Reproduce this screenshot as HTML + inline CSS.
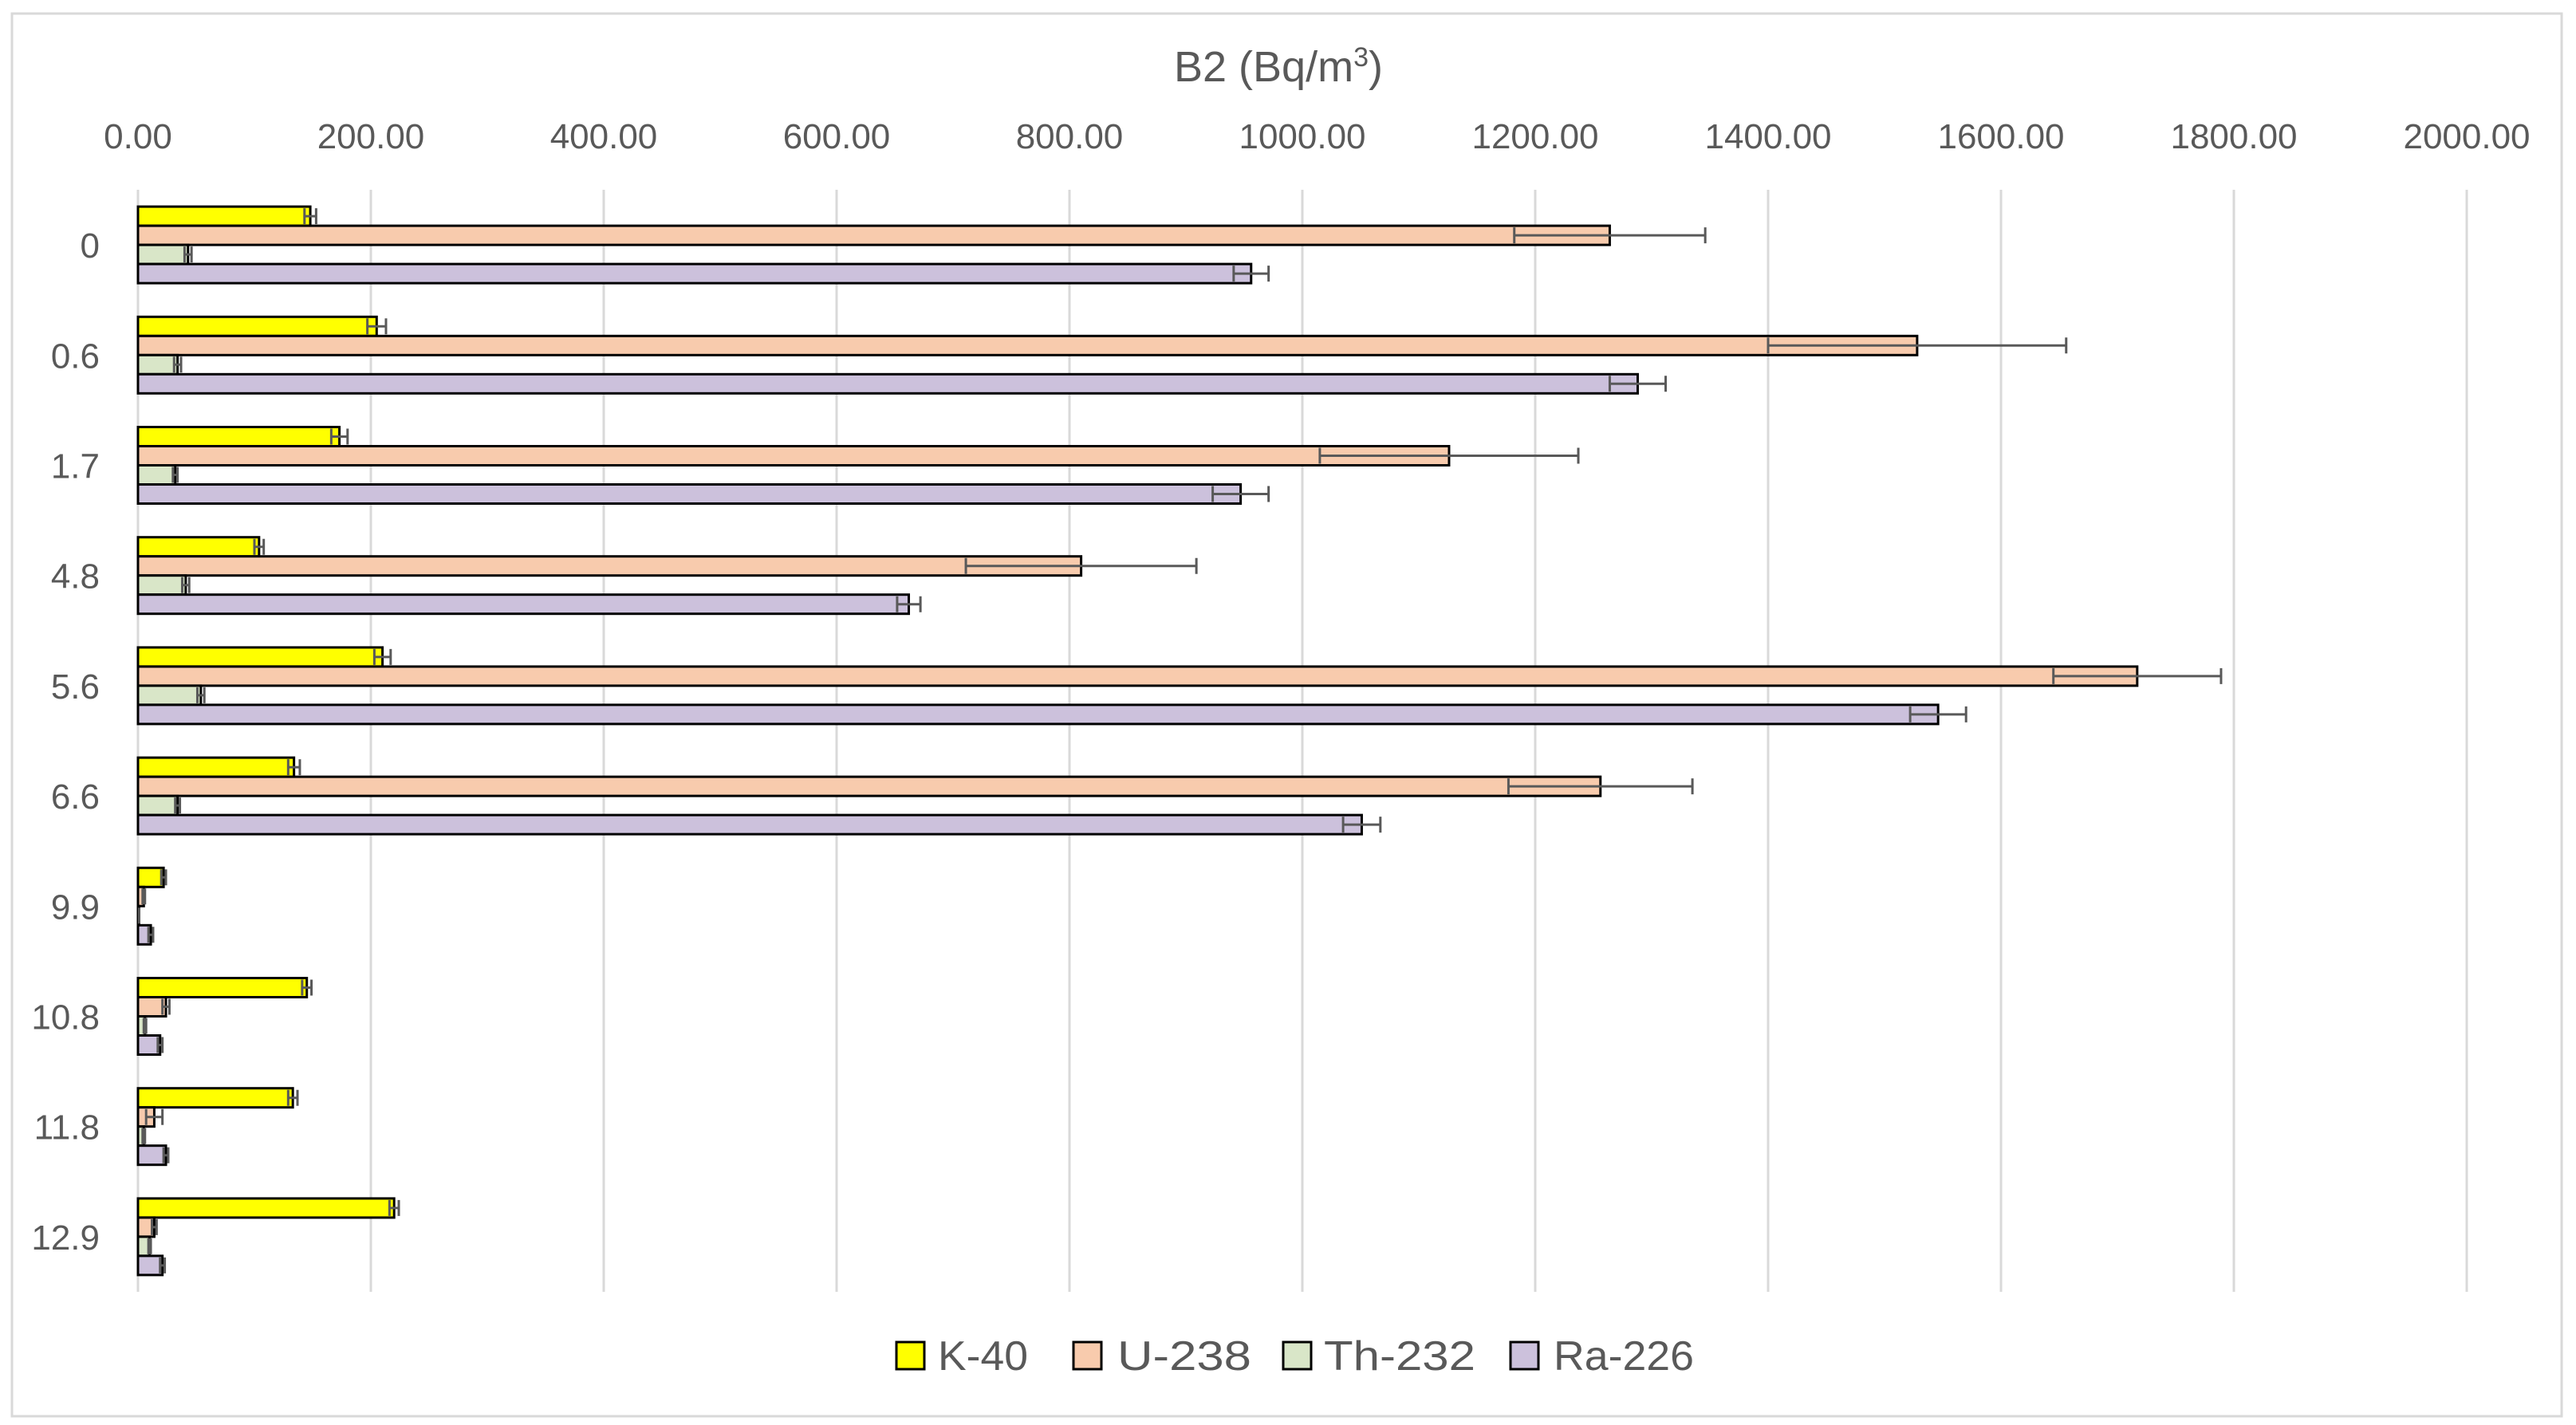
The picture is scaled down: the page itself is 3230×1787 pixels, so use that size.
<!DOCTYPE html>
<html><head><meta charset="utf-8"><style>
html,body{margin:0;padding:0;background:#fff;}
svg{display:block;font-family:"Liberation Sans",sans-serif;}
</style></head><body>
<svg id="chart" width="3230" height="1787" viewBox="0 0 3230 1787" xmlns="http://www.w3.org/2000/svg">
<rect x="15" y="17" width="3197" height="1759" fill="#fff" stroke="#d9d9d9" stroke-width="3"/>
<text x="1603" y="102" text-anchor="middle" font-size="54" fill="#595959">B2 (Bq/m<tspan baseline-shift="super" font-size="34">3</tspan>)</text>
<g id="grid"></g><g id="bars"></g><g id="errs"></g><g id="labels"></g>
<g id="legend"></g>
</svg>
<script>
const categories = ["0","0.6","1.7","4.8","5.6","6.6","9.9","10.8","11.8","12.9"];
const seriesNames = ["K-40","U-238","Th-232","Ra-226"];
const k40 = [148,205,173,104,210,134,22,145,133,220];
const u238 = [1264,1528,1126,810,1717,1256,5,24,14,14];
const th232 = [43,34,32,41,54,34,1,6,5,10];
const ra226 = [956,1288,947,662,1546,1051,11,19,24,21];
const k40Err = [5,8,7,4,7,5,2,4,4,4];
const u238Err = [82,128,111,99,72,79,1,3,7,2];
const th232Err = [3,3,2,3,3,2,0,1,1,1];
const ra226Err = [15,24,24,10,24,16,2,2,2,2];
const ticks = [0,200,400,600,800,1000,1200,1400,1600,1800,2000];

const series = [k40,u238,th232,ra226];
const errs = [k40Err,u238Err,th232Err,ra226Err];
const colors = ["#ffff00","#f8cbad","#d9e6c8","#ccc1dc"];
const NS = "http://www.w3.org/2000/svg";
const X0 = 173, PX = 1.46, TOP = 238, BOT = 1620;
const band = (BOT - TOP) / categories.length, barH = 24;
const xs = v => X0 + v * PX;
function mk(tag, attrs, parent){const e=document.createElementNS(NS,tag);for(const k in attrs)e.setAttribute(k,attrs[k]);document.getElementById(parent).appendChild(e);return e;}

ticks.forEach(t=>{
  const g = mk("line",{x1:xs(t),x2:xs(t),y1:TOP,y2:BOT,stroke:"#d9d9d9","stroke-width":3},"grid");
  
  
  const l = mk("text",{x:xs(t),y:186,"text-anchor":"middle","font-size":44,fill:"#595959"},"labels");
  l.textContent = t.toFixed(2);
  
  
});
categories.forEach((c,i)=>{
  const cy = TOP + band*i + band/2;
  const l = mk("text",{x:125,y:cy+16,"text-anchor":"end","font-size":44,fill:"#595959"},"labels");
  l.textContent = c;
  
  
  series.forEach((s,j)=>{
    const y = cy - 2*barH + j*barH;
    const w = Math.max(xs(s[i]) - X0, 1);
    const r = mk("rect",{x:X0,y:y,width:w,height:barH,fill:colors[j],stroke:"#000","stroke-width":3},"bars");
    
    
    const e = errs[j][i];
    const ym = y + barH/2, x1 = xs(s[i]-e), x2 = xs(s[i]+e);
    const eg = mk("path",{d:`M${x1},${ym}H${x2}M${x1},${ym-10}V${ym+10}M${x2},${ym-10}V${ym+10}`,stroke:"#595959","stroke-width":3,fill:"none"},"errs");
    
    
  });
});
const lx = [1124,1346,1609,1894], tx=[1176,1401,1660,1948], tw=[113,168,190,176];
seriesNames.forEach((n,j)=>{
  const s = mk("rect",{x:lx[j],y:1683,width:35,height:34,fill:colors[j],stroke:"#000","stroke-width":3},"legend");
  
  
  const t = mk("text",{x:tx[j],y:1718,"font-size":52,fill:"#595959",textLength:tw[j],lengthAdjust:"spacingAndGlyphs"},"legend");
  t.textContent = n;
  
  
});
</script>
</body></html>
